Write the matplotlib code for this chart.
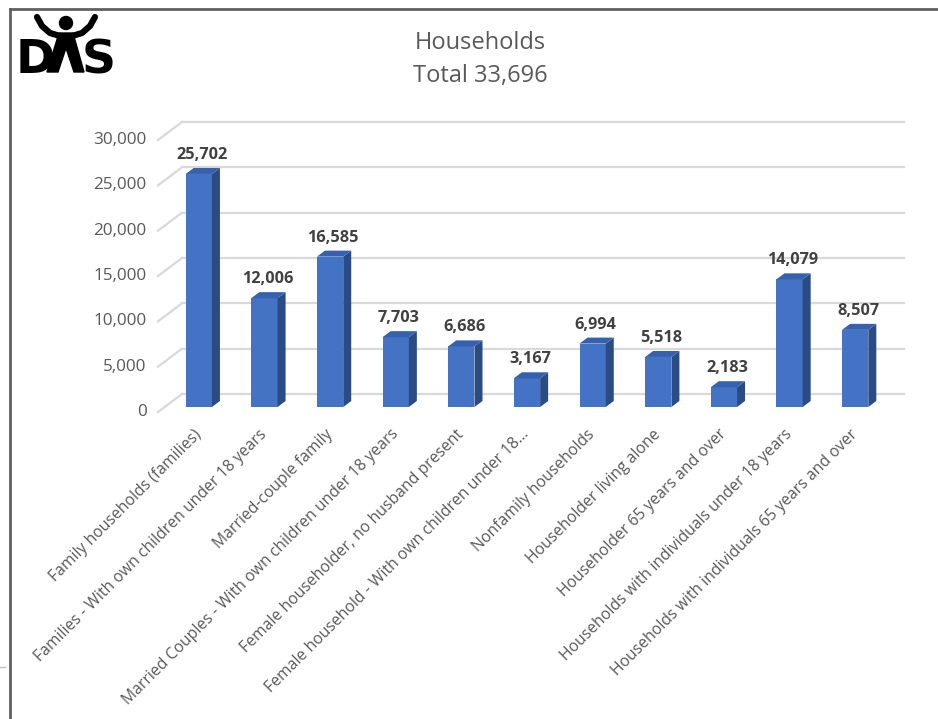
import matplotlib
matplotlib.use("Agg")
import matplotlib.pyplot as plt
from matplotlib.patches import Polygon, Circle
from matplotlib.lines import Line2D
from matplotlib.transforms import ScaledTranslation

plt.rcParams['font.family'] = ['Open Sans', 'DejaVu Sans']

# ---- data ----
categories = [
    "Family households (families)",
    "Families - With own children under 18 years",
    "Married-couple family",
    "Married Couples - With own children under 18 years",
    "Female householder, no husband present",
    "Female household - With own children under 18\u2026",
    "Nonfamily households",
    "Householder living alone",
    "Householder 65 years and over",
    "Households with individuals under 18 years",
    "Households with individuals 65 years and over",
]
values = [25702, 12006, 16585, 7703, 6686, 3167, 6994, 5518, 2183, 14079, 8507]
y_ticks = [0, 5000, 10000, 15000, 20000, 25000, 30000]
title_lines = ["Households", "Total 33,696"]

# ---- style ----
FRONT = "#4472C4"
SIDE = "#2B4B85"
TOP = "#3561AE"
GRID = "#D9D9D9"
TEXT = "#595959"
LABEL = "#404040"

W, H = 938, 719
fig = plt.figure(figsize=(W / 100, H / 100), dpi=100)

# plot area in pixels (bar plane)
left_px, right_px = 166, 888
zero_px, top_px = 407, 135
ax = fig.add_axes([left_px / W, (H - zero_px) / H,
                   (right_px - left_px) / W, (zero_px - top_px) / H])
ax.set_xlim(-0.5, len(values) - 0.5)
ax.set_ylim(0, 30000)
for s in ax.spines.values():
    s.set_visible(False)

ppx = (right_px - left_px) / (len(values))      # pixels per category
ppy = (zero_px - top_px) / 30000.0              # pixels per unit value


def dx(p):
    return p / ppx


def dy(p):
    return p / ppy


# back-wall gridlines and side-wall depth lines
back = (16, 13)
front = (-8, -5)
x0, x1 = -0.5, len(values) - 0.5
for v in y_ticks:
    ax.add_line(Line2D([x0 + dx(back[0]), x1 + dx(back[0])],
                       [v + dy(back[1]), v + dy(back[1])],
                       color=GRID, lw=1.6, zorder=1, clip_on=False))
    ax.add_line(Line2D([x0 + dx(front[0]), x0 + dx(back[0])],
                       [v + dy(front[1]), v + dy(back[1])],
                       color=GRID, lw=1.6, zorder=1, clip_on=False))

# 3-D style bars
bw = 0.40
ddx, ddy = dx(8), dy(6)
xs = list(range(len(values)))
ax.bar(xs, values, width=bw, color=FRONT, edgecolor="none", zorder=3)
for x, v in zip(xs, values):
    xl, xr = x - bw / 2, x + bw / 2
    ax.add_patch(Polygon([(xr, 0), (xr + ddx, ddy), (xr + ddx, v + ddy), (xr, v)],
                         closed=True, facecolor=SIDE, edgecolor="none",
                         zorder=3, clip_on=False))
    ax.add_patch(Polygon([(xl, v), (xr, v), (xr + ddx, v + ddy), (xl + ddx, v + ddy)],
                         closed=True, facecolor=TOP, edgecolor="none",
                         zorder=3, clip_on=False))
    ax.text(x + dx(3), v + ddy + dy(5), f"{v:,}", ha="center", va="bottom",
            fontsize=11.7, fontweight="bold", color=LABEL, zorder=4)

# axes ticks and labels
ax.set_yticks(y_ticks, [f"{t:,}" for t in y_ticks])
ax.tick_params(axis="y", length=0, pad=14, labelsize=12.3, labelcolor=TEXT)
shift = ScaledTranslation(0, -3 / 100, fig.dpi_scale_trans)
for lab in ax.get_yticklabels():
    lab.set_transform(lab.get_transform() + shift)
ax.set_xticks(xs, categories)
ax.tick_params(axis="x", length=0, pad=18, labelsize=11.3, labelcolor=TEXT)
for lab in ax.get_xticklabels():
    lab.set_rotation(45)
    lab.set_ha("right")
    lab.set_va("center")
    lab.set_rotation_mode("anchor")

# title
fig.text(480 / W, 1 - 43 / H, title_lines[0], ha="center", va="center",
         fontsize=17, color=TEXT)
fig.text(480 / W, 1 - 76 / H, title_lines[1], ha="center", va="center",
         fontsize=17, color=TEXT)

# frame
fig.add_artist(Line2D([10 / W, 1], [1 - 9 / H, 1 - 9 / H], color="#606060", lw=2,
                      transform=fig.transFigure))
fig.add_artist(Line2D([10 / W, 10 / W], [1 - 9 / H, 0], color="#606060", lw=2,
                      transform=fig.transFigure))
fig.add_artist(Line2D([0, 5 / W], [1 - 667 / H, 1 - 667 / H], color="#BFBFBF", lw=1,
                      transform=fig.transFigure))

# logo
lax = fig.add_axes([0, 0, 1, 1], zorder=10)
lax.set_xlim(0, W)
lax.set_ylim(H, 0)
lax.axis("off")
lax.text(16, 73, "D", fontsize=34, fontweight="heavy", color="black",
         ha="left", va="baseline", family="DejaVu Sans")
lax.text(82, 73, "S", fontsize=34, fontweight="heavy", color="black",
         ha="left", va="baseline", family="DejaVu Sans")
lax.add_patch(Circle((66, 23), 6.5, color="black"))
lax.add_patch(Polygon([(59, 33), (73, 33), (84, 72), (74, 72), (66, 48), (58, 72), (47, 72)],
                      closed=True, color="black"))
lax.plot([60, 50, 42, 37], [36, 33, 26, 17], color="black", lw=4.5, solid_capstyle="round")
lax.plot([72, 82, 90, 95], [36, 33, 26, 17], color="black", lw=4.5, solid_capstyle="round")

fig.savefig("out.png", dpi=100)
